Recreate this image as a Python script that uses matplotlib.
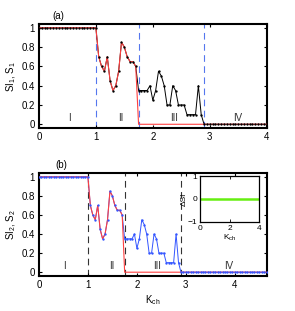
import numpy as np
import matplotlib
matplotlib.use("Agg")
import matplotlib.pyplot as plt

# ---------------------------------------------------------------- data
step = 0.05
si_mid = [0.7, 0.6, 0.55, 0.7, 0.45, 0.35, 0.4, 0.55, 0.85, 0.8, 0.7, 0.65, 0.65, 0.6,  # 1.05 .. 1.70
          0.35, 0.35, 0.35, 0.35, 0.4, 0.25, 0.35, 0.55, 0.5, 0.4, 0.2, 0.2,           # 1.75 .. 2.30
          0.4, 0.35, 0.2, 0.2, 0.2, 0.1, 0.1, 0.1, 0.1, 0.4, 0.1]                       # 2.35 .. 2.85
si_1 = [1.0] * 21 + si_mid + [0.0] * 23          # K_ch = 0 .. 4.0
si_2 = [1.0] * 21 + si_mid + [0.0] * 36          # K_ch = 0 .. 4.65
s_1 = si_1[:35] + [0.0] * (len(si_1) - 35)       # S drops to 0 at K_ch = 1.75
s_2 = si_2[:35] + [0.0] * (len(si_2) - 35)
k_1 = np.round(np.arange(len(si_1)) * step, 2)
k_2 = np.round(np.arange(len(si_2)) * step, 2)

boundaries = [1.0, 1.75, 2.9]
regions = ["I", "II", "III", "IV"]
pos_top = [0.53, 1.43, 2.37, 3.49]
pos_bot = [0.53, 1.48, 2.41, 3.87]

inset_k = [0, 4]
inset_dsi = [0, 0]

plt.rcParams["font.size"] = 7
plt.rcParams["font.family"] = ["Liberation Sans", "DejaVu Sans"]
plt.rcParams["mathtext.fontset"] = "custom"
plt.rcParams["mathtext.rm"] = "Liberation Sans"
plt.rcParams["mathtext.it"] = "Liberation Sans"

fig = plt.figure(figsize=(2.95, 3.11), dpi=100)


def style(ax):
    ax.tick_params(direction="in", top=True, right=True, length=2.5, width=0.8, pad=3, labelsize=7)
    for sp in ax.spines.values():
        sp.set_linewidth(1.5)


# ---------------------------------------------------------------- (a)
ax1 = fig.add_axes([0.132, 0.588, 0.772, 0.335])
ax1.plot(k_1, si_1, color="black", lw=0.7, zorder=2)
ax1.plot(k_1, s_1, color="#ff4040", lw=0.8, zorder=3)
ax1.plot(k_1, si_1, ls="none", marker="o", ms=1.7, color="black", mec="none", zorder=4)
for b in boundaries:
    ax1.axvline(b, color="#5577ee", ls=(0, (6, 4)), lw=0.8, zorder=1)
for r, p in zip(regions, pos_top):
    ax1.text(p, 0.07, r, ha="center", va="center", fontsize=7, color="#333333")
ax1.set_xlim(0, 4)
ax1.set_ylim(-0.04, 1.04)
ax1.set_xticks([0, 1, 2, 3, 4])
ax1.set_yticks([0, 0.2, 0.4, 0.6, 0.8, 1])
ax1.set_yticklabels(["0", "0.2", "0.4", "0.6", "0.8", "1"])
ax1.set_ylabel("SI$_1$, S$_1$", labelpad=2)
ax1.text(0.06, 1.03, "(a)", transform=ax1.transAxes, ha="left", va="bottom", fontsize=7)
style(ax1)

# ---------------------------------------------------------------- (b)
ax2 = fig.add_axes([0.132, 0.1125, 0.772, 0.331])
ax2.plot(k_2, si_2, color="#3355ff", lw=0.7, zorder=2)
ax2.plot(k_2, s_2, color="#ff4040", lw=0.8, zorder=3)
ax2.plot(k_2, si_2, ls="none", marker="o", ms=1.7, color="#3355ff", mec="none", zorder=4)
for b in boundaries:
    ax2.axvline(b, color="#333333", ls=(0, (6, 4)), lw=0.8, zorder=1)
for r, p in zip(regions, pos_bot):
    ax2.text(p, 0.06, r, ha="center", va="center", fontsize=7, color="#333333")
ax2.set_xlim(0, 4.65)
ax2.set_ylim(-0.04, 1.04)
ax2.set_xticks([0, 1, 2, 3, 4])
ax2.set_yticks([0, 0.2, 0.4, 0.6, 0.8, 1])
ax2.set_yticklabels(["0", "0.2", "0.4", "0.6", "0.8", "1"])
ax2.set_ylabel("SI$_2$, S$_2$", labelpad=2)
ax2.set_xlabel("K$_{ch}$", labelpad=2)
ax2.text(0.07, 1.03, "(b)", transform=ax2.transAxes, ha="left", va="bottom", fontsize=7)
style(ax2)

# ---------------------------------------------------------------- inset
ax3 = fig.add_axes([0.678, 0.287, 0.2, 0.147])
ax3.plot(inset_k, inset_dsi, color="#66ee11", lw=1.8)
ax3.set_xlim(0, 4)
ax3.set_ylim(-1, 1)
ax3.set_xticks([0, 2, 4])
ax3.set_yticks([-1, 0, 1])
ax3.set_yticklabels(["\u22121", "0", "1"])
ax3.tick_params(direction="in", top=True, right=True, length=2, width=0.6, pad=2, labelsize=6)
for sp in ax3.spines.values():
    sp.set_linewidth(0.9)
ax3.set_ylabel("\u0394SI", fontsize=6, labelpad=0)
ax3.set_xlabel("K$_{ch}$", fontsize=6, labelpad=1)

fig.savefig("out.png", dpi=100)
